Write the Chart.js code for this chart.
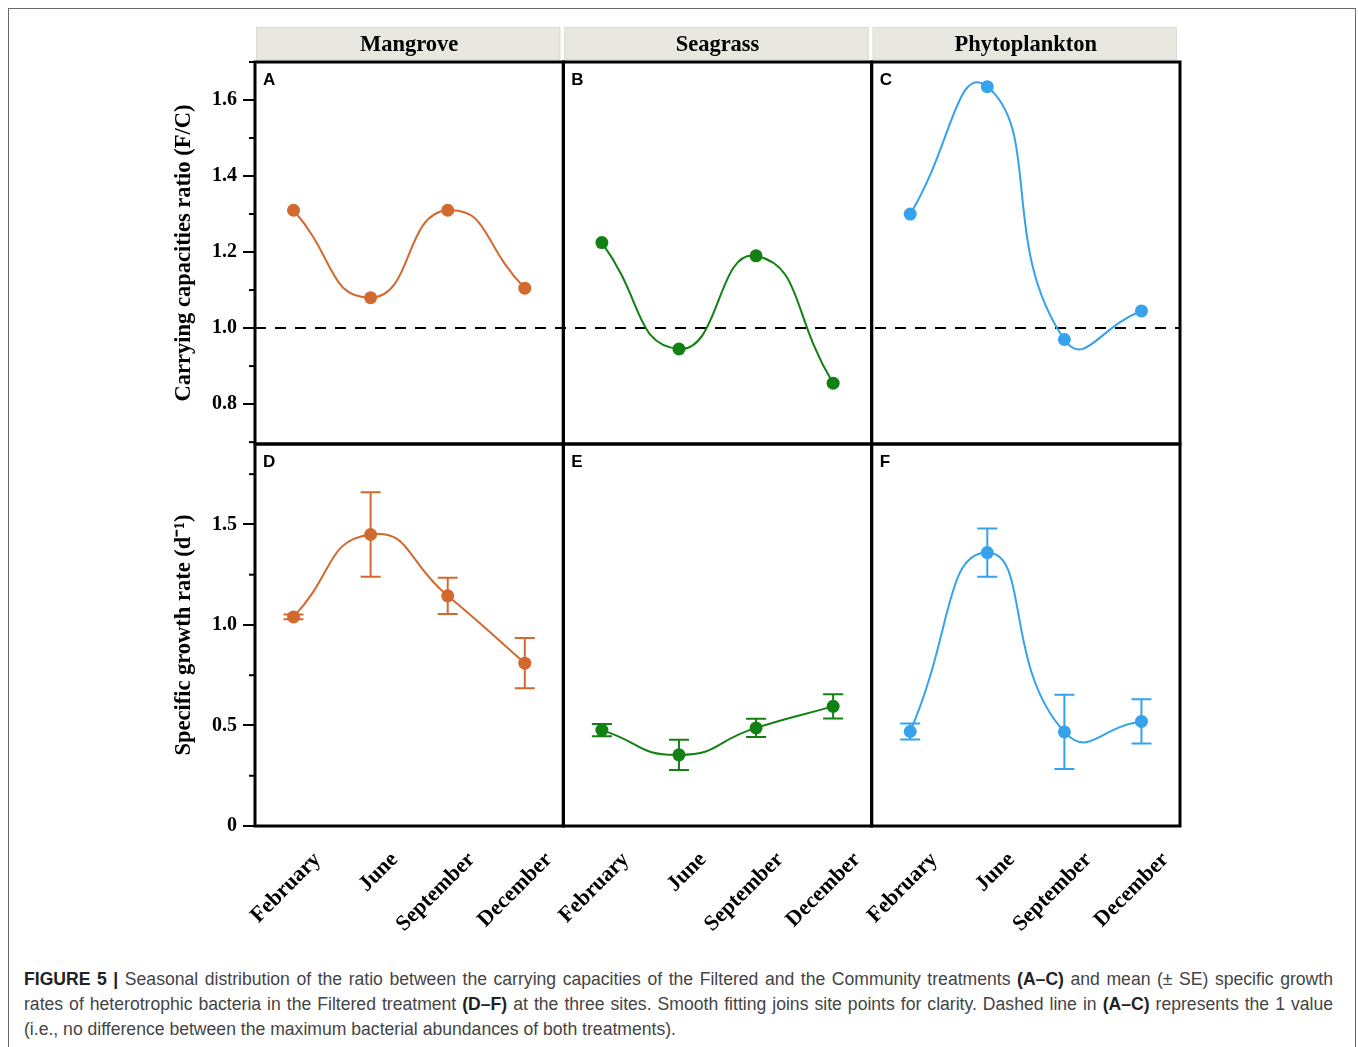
<!DOCTYPE html>
<html>
<head>
<meta charset="utf-8">
<script src="https://cdn.jsdelivr.net/npm/chart.js@4.4.0/dist/chart.umd.min.js"></script>
<style>
  body { margin: 0; background: #fff; }
  #frame { position: absolute; left: 8px; top: 8px; width: 1346px; height: 1042px; border: 1px solid #6a6a6a; }
  #wrap { position: absolute; left: 160px; top: 10px; width: 1040px; height: 940px; }
  #caption { position: absolute; left: 24px; top: 967px; font: 17.6px "Liberation Sans", Arial, sans-serif; color: #444; line-height: 25px; }
  #caption div { width: 1309px; white-space: nowrap; text-align: justify; text-align-last: justify; }
  #caption div.last { text-align-last: left; }
  #caption b { color: #222; }
</style>
</head>
<body>
<div id="frame"></div>
<div id="wrap"><canvas id="fig" width="1040" height="940"></canvas></div>
<div id="caption">
  <div><b>FIGURE 5 |</b> Seasonal distribution of the ratio between the carrying capacities of the Filtered and the Community treatments <b>(A–C)</b> and mean (± SE) specific growth</div>
  <div>rates of heterotrophic bacteria in the Filtered treatment <b>(D–F)</b> at the three sites. Smooth fitting joins site points for clarity. Dashed line in <b>(A–C)</b> represents the 1 value</div>
  <div class="last">(i.e., no difference between the maximum bacterial abundances of both treatments).</div>
</div>
<script>
// data
const months = ['February', 'June', 'September', 'December'];
const sites = ['Mangrove', 'Seagrass', 'Phytoplankton'];

// carrying capacities ratio (F/C), panels A-C
const ratioMangrove = [1.31, 1.08, 1.31, 1.105];
const ratioSeagrass = [1.225, 0.945, 1.19, 0.855];
const ratioPhyto = [1.30, 1.635, 0.97, 1.045];

// specific growth rate (d-1) and SE, panels D-F
const growthMangrove = [1.04, 1.45, 1.145, 0.81];
const seMangrove = [0.012, 0.21, 0.09, 0.125];
const growthSeagrass = [0.477, 0.354, 0.488, 0.595];
const seSeagrass = [0.03, 0.075, 0.045, 0.06];
const growthPhyto = [0.47, 1.36, 0.468, 0.52];
const sePhyto = [0.04, 0.12, 0.185, 0.11];

const ratioTicks = [0.8, 1.0, 1.2, 1.4, 1.6];
const ratioMinor = [0.7, 0.9, 1.1, 1.3, 1.5, 1.7];
const growthTicks = [0, 0.5, 1.0, 1.5];
const growthMinor = [0.25, 0.75, 1.25, 1.75];
const panelLetters = ['A', 'B', 'C', 'D', 'E', 'F'];
const refLine = 1;

const colors = ['#D2692F', '#138013', '#35A2EB'];
const serif = '"Liberation Serif", "Times New Roman", serif';
const sans = '"Liberation Sans", Arial, sans-serif';

const ratioData = [ratioMangrove, ratioSeagrass, ratioPhyto];
const growthData = [growthMangrove, growthSeagrass, growthPhyto];
const seData = [seMangrove, seSeagrass, sePhyto];

const lineStyle = c => ({
  borderColor: c,
  backgroundColor: c,
  pointBackgroundColor: c,
  pointBorderColor: c,
  pointRadius: 6.5,
  pointBorderWidth: 0,
  borderWidth: 2,
  tension: 0.55,
  fill: false
});

const datasets = [];
sites.forEach((s, i) => {
  datasets.push({ label: s + ' ratio', data: ratioData[i], xAxisID: 'x' + i, yAxisID: 'yTop', ...lineStyle(colors[i]) });
  datasets.push({ label: s + ' growth', data: growthData[i], se: seData[i], xAxisID: 'x' + i, yAxisID: 'yBot', ...lineStyle(colors[i]) });
});

const xScale = () => ({
  type: 'category',
  labels: months,
  position: 'bottom',
  stack: 'cols',
  stackWeight: 1,
  offset: true,
  grid: { display: false },
  border: { display: false },
  ticks: {
    autoSkip: false, maxRotation: 45, minRotation: 45,
    labelOffset: 24, padding: 13, color: '#000',
    font: { family: serif, weight: 'bold', size: 22 }
  },
  afterFit: s => { s.height = 124; s.paddingLeft = 0; s.paddingRight = 0; }
});

const yScale = (min, max, tickVals, title) => ({
  type: 'linear',
  position: 'left',
  stack: 'rows',
  stackWeight: 1,
  min: min,
  max: max,
  afterBuildTicks: s => { s.ticks = tickVals.map(v => ({ value: v })); },
  ticks: {
    padding: 6, color: '#000',
    font: { family: serif, weight: 'bold', size: 20 },
    callback: v => v === 0 ? '0' : Number(v).toFixed(1)
  },
  grid: { drawOnChartArea: false, tickLength: 12, lineWidth: 2, color: '#000' },
  border: { display: false },
  title: {
    display: true, text: title, color: '#000',
    font: { family: serif, weight: 'bold', size: 22.5 },
    padding: { top: 11, bottom: 0 }
  },
  afterFit: s => { s.width = 95; }
});

// panels, strips, reference line, error bars, minor ticks
const facets = {
  id: 'facets',
  beforeDatasetsDraw(chart) {
    const { ctx, chartArea, scales } = chart;
    const y = scales.yTop.getPixelForValue(refLine);
    ctx.save();
    ctx.strokeStyle = '#000';
    ctx.lineWidth = 2;
    ctx.setLineDash([11, 9]);
    ctx.beginPath();
    ctx.moveTo(chartArea.left, y);
    ctx.lineTo(chartArea.right, y);
    ctx.stroke();
    ctx.restore();

    chart.data.datasets.forEach(ds => {
      if (!ds.se) return;
      const xs = scales[ds.xAxisID], ys = scales[ds.yAxisID];
      ctx.save();
      ctx.strokeStyle = ds.borderColor;
      ctx.lineWidth = 2;
      ds.data.forEach((v, i) => {
        const x = xs.getPixelForValue(i);
        const y1 = ys.getPixelForValue(v + ds.se[i]);
        const y2 = ys.getPixelForValue(v - ds.se[i]);
        ctx.beginPath();
        ctx.moveTo(x, y1); ctx.lineTo(x, y2);
        ctx.moveTo(x - 10, y1); ctx.lineTo(x + 10, y1);
        ctx.moveTo(x - 10, y2); ctx.lineTo(x + 10, y2);
        ctx.stroke();
      });
      ctx.restore();
    });
  },
  afterDatasetsDraw(chart) {
    const { ctx, chartArea, scales } = chart;
    const rows = [scales.yTop, scales.yBot];
    const cols = [scales.x0, scales.x1, scales.x2];
    ctx.save();
    ctx.strokeStyle = '#000';
    ctx.lineWidth = 3;
    rows.forEach(ys => cols.forEach(xs => {
      ctx.strokeRect(xs.left, ys.top, xs.right - xs.left, ys.bottom - ys.top);
    }));

    // minor ticks
    ctx.lineWidth = 2;
    [[scales.yTop, ratioMinor], [scales.yBot, growthMinor]].forEach(([ys, vals]) => {
      vals.forEach(v => {
        const y = ys.getPixelForValue(v);
        ctx.beginPath();
        ctx.moveTo(chartArea.left - 6, y);
        ctx.lineTo(chartArea.left, y);
        ctx.stroke();
      });
    });

    // panel letters
    ctx.fillStyle = '#000';
    ctx.font = 'bold 17px ' + sans;
    ctx.textAlign = 'left';
    ctx.textBaseline = 'alphabetic';
    rows.forEach((ys, r) => cols.forEach((xs, c) => {
      ctx.fillText(panelLetters[r * 3 + c], xs.left + 8, ys.top + 23);
    }));

    // strip headers
    cols.forEach((xs, c) => {
      const top = chartArea.top - 35;
      ctx.fillStyle = '#e8e7e0';
      ctx.fillRect(xs.left + 1, top, xs.right - xs.left - 4, 33);
      ctx.strokeStyle = '#dddcd0';
      ctx.lineWidth = 1;
      ctx.strokeRect(xs.left + 1.5, top + 0.5, xs.right - xs.left - 5, 32);
      ctx.fillStyle = '#000';
      ctx.font = 'bold 22.5px ' + serif;
      ctx.textAlign = 'center';
      ctx.textBaseline = 'middle';
      ctx.fillText(sites[c], (xs.left + xs.right) / 2, top + 18);
    });
    ctx.restore();
  }
};

new Chart(document.getElementById('fig'), {
  type: 'line',
  data: { labels: months, datasets: datasets },
  options: {
    responsive: false,
    animation: false,
    devicePixelRatio: 1,
    layout: { padding: { top: 52, right: 20, left: 0, bottom: 0 } },
    plugins: { legend: { display: false }, tooltip: { enabled: false } },
    scales: {
      x0: xScale(),
      x1: xScale(),
      x2: xScale(),
      yBot: yScale(0, 1.9, growthTicks, 'Specific growth rate (d⁻¹)'),
      yTop: yScale(0.695, 1.7, ratioTicks, 'Carrying capacities ratio (F/C)')
    }
  },
  plugins: [facets]
});
</script>
</body>
</html>
